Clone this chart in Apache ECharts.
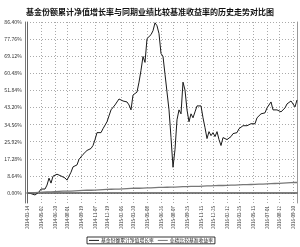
<!DOCTYPE html>
<html><head><meta charset="utf-8">
<script src="https://cdn.jsdelivr.net/npm/echarts@6/dist/echarts.min.js"></script>
<style>html,body{margin:0;padding:0;background:#fff}#c{width:300px;height:247px}</style>
</head><body><div id="c"></div>
<script>
const titleText = '基金份额累计净值增长率与同期业绩比较基准收益率的历史走势对比图';
const seriesNames = ['基金份额累计净值增长率', '业绩比较基准收益率'];
const fundValues = [
  0, 0.2, -0.3, -0.5, -1.0, -0.6, 0.5, 2.0, 2.5, 2.0,
  4.0, 7.5, 5.0, 8.5, 8.6, 9.5, 9.0, 8.6, 8.0, 7.6,
  6.5, 5.6, 10.5, 13.2, 13.5, 14.2, 17.0, 18.0, 19.5, 20.5,
  21.5, 22.0, 22.5, 24.0, 27.0, 30.5, 31.5, 30.5, 32.5, 33.5,
  36.0, 39.0, 42.0, 43.0, 44.5, 46.0, 47.5, 48.0, 46.5, 47.5,
  46.0, 44.5, 42.0, 49.5, 50.0, 51.0, 56.0, 62.0, 69.0, 66.0,
  78.0, 79.0, 80.0, 82.0, 86.0, 84.5, 80.5, 70.5, 69.0, 60.0,
  51.0, 42.0, 28.0, 13.0, 22.0, 37.0, 42.0, 40.0, 56.0, 52.0,
  42.0, 36.0, 40.0, 38.0, 41.0, 44.0, 45.0, 44.0, 38.0, 33.0,
  27.5, 31.0, 29.0, 30.5, 28.5, 31.0, 27.0, 24.0, 28.0, 28.5,
  27.0, 27.5, 28.5, 30.0, 29.5, 30.5, 32.5, 32.0, 34.0, 33.0,
  34.0, 33.5, 35.0, 34.0, 35.0, 38.0, 38.5, 40.0, 41.0, 40.5,
  43.0, 44.0, 46.0, 42.0, 42.5, 42.0, 42.0, 41.0, 40.5, 43.0,
  45.0, 45.5, 46.5, 45.5, 43.5, 47.0
];
const benchValues = [
  0.0, 0.1, 0.1, 0.2, 0.2, 0.3, 0.3, 0.4, 0.4, 0.5,
  0.5, 0.6, 0.6, 0.7, 0.7, 0.8, 0.8, 0.8, 0.9, 0.9,
  1.0, 1.0, 1.0, 1.1, 1.1, 1.2, 1.2, 1.2, 1.3, 1.3,
  1.4, 1.4, 1.4, 1.5, 1.5, 1.6, 1.6, 1.6, 1.7, 1.7,
  1.8, 1.8, 1.9, 1.9, 2.0, 2.0, 2.0, 2.1, 2.1, 2.2,
  2.2, 2.2, 2.3, 2.3, 2.4, 2.4, 2.4, 2.5, 2.5, 2.5,
  2.6, 2.6, 2.6, 2.7, 2.7, 2.7, 2.8, 2.8, 2.8, 2.9,
  2.9, 2.9, 3.0, 3.0, 3.0, 3.1, 3.1, 3.1, 3.2, 3.2,
  3.2, 3.3, 3.3, 3.3, 3.4, 3.4, 3.4, 3.5, 3.5, 3.5,
  3.6, 3.6, 3.6, 3.7, 3.7, 3.7, 3.8, 3.8, 3.8, 3.9,
  3.9, 3.9, 4.0, 4.0, 4.0, 4.1, 4.1, 4.1, 4.2, 4.2,
  4.2, 4.3, 4.3, 4.3, 4.4, 4.4, 4.5, 4.5, 4.5, 4.6,
  4.6, 4.7, 4.7, 4.8, 4.8, 4.8, 4.9, 4.9, 5.0, 5.0,
  5.1, 5.1, 5.2, 5.2, 5.3, 5.3
];
const startDate = '2014-03-14';
const labelIndices = [0, 7, 14, 20, 27, 34, 40, 47, 53, 60, 67, 73, 80, 87, 93, 100, 106, 113, 120, 126, 133];
const yMax = 86.4;
const yStep = 8.64;
const yDataMin = -5.05;

// weekly category dates
const dates = [];
(function () {
  const d = new Date(startDate + 'T00:00:00Z');
  for (let i = 0; i < fundValues.length; i++) {
    const t = new Date(d.getTime() + i * 7 * 86400000);
    const s = t.getUTCFullYear() + '-' + String(t.getUTCMonth() + 1).padStart(2, '0') + '-' + String(t.getUTCDate()).padStart(2, '0');
    dates.push(s);
  }
})();
const labelSet = new Set(labelIndices);
const showIdx = (i) => labelSet.has(i);

const FONT = 'Noto Sans CJK SC';
const chart = echarts.init(document.getElementById('c'), null, { renderer: 'canvas' });
chart.setOption({
  animation: false,
  backgroundColor: '#fff',
  title: {
    text: titleText, left: 'center', top: 3,
    textStyle: { fontSize: 8, fontWeight: 'bold', color: '#111', fontFamily: FONT }
  },
  legend: {
    data: seriesNames, left: 87, top: 237,
    icon: 'rect', itemWidth: 10, itemHeight: 1, itemGap: 4,
    borderColor: '#000', borderWidth: 0.8, padding: [1, 2, 1, 2],
    textStyle: { fontSize: 4.8, color: '#222', fontFamily: FONT, padding: [0, 0, 0, -3] }
  },
  grid: [
    { left: 27, right: 3, top: 22, bottom: 44 },
    { left: 27, right: 3, top: 22, bottom: 54 }
  ],
  xAxis: [
    {
      type: 'category', gridIndex: 0, data: dates, boundaryGap: false,
      axisLine: { lineStyle: { color: '#555', width: 1.5 } },
      axisTick: { show: false },
      axisLabel: {
        interval: (i) => showIdx(i), rotate: 90, fontSize: 4.5, color: '#333',
        margin: 3, fontFamily: FONT
      },
      splitLine: { show: true, interval: (i) => showIdx(i), lineStyle: { color: '#aaa', type: [1, 2], width: 1 } }
    },
    { type: 'category', gridIndex: 1, data: dates, boundaryGap: false, show: false }
  ],
  yAxis: [
    {
      type: 'value', gridIndex: 0, min: yDataMin, max: yMax,
      axisLine: { show: true, lineStyle: { color: '#666', width: 1 } },
      axisTick: { show: false }, axisLabel: { show: false }, splitLine: { show: false }
    },
    {
      type: 'value', gridIndex: 1, min: 0, max: yMax, interval: yStep,
      axisLine: { show: false }, axisTick: { show: false },
      axisLabel: {
        fontSize: 5.2, color: '#333', margin: 5, fontFamily: FONT,
        formatter: (v) => v.toFixed(2) + '%'
      },
      splitLine: { show: true, lineStyle: { color: '#aaa', type: [1, 2], width: 1 } }
    },
    {
      type: 'value', gridIndex: 0, position: 'left', offset: 2, min: yDataMin, max: yMax,
      axisLine: { show: true, lineStyle: { color: '#777', width: 1 } },
      axisTick: { show: false }, axisLabel: { show: false }, splitLine: { show: false }
    },
    {
      type: 'value', gridIndex: 0, position: 'right', min: yDataMin, max: yMax,
      axisLine: { show: true, lineStyle: { color: '#999', width: 1 } },
      axisTick: { show: false }, axisLabel: { show: false }, splitLine: { show: false }
    }
  ],
  series: [
    {
      name: seriesNames[0], type: 'line', xAxisIndex: 0, yAxisIndex: 0,
      data: fundValues, symbol: 'none', lineStyle: { color: '#1a1a1a', width: 1 },
      itemStyle: { color: '#1a1a1a' }
    },
    {
      name: seriesNames[1], type: 'line', xAxisIndex: 0, yAxisIndex: 0,
      data: benchValues, symbol: 'none', lineStyle: { color: '#777', width: 1.3 },
      itemStyle: { color: '#777' }
    }
  ]
});
</script></body></html>
